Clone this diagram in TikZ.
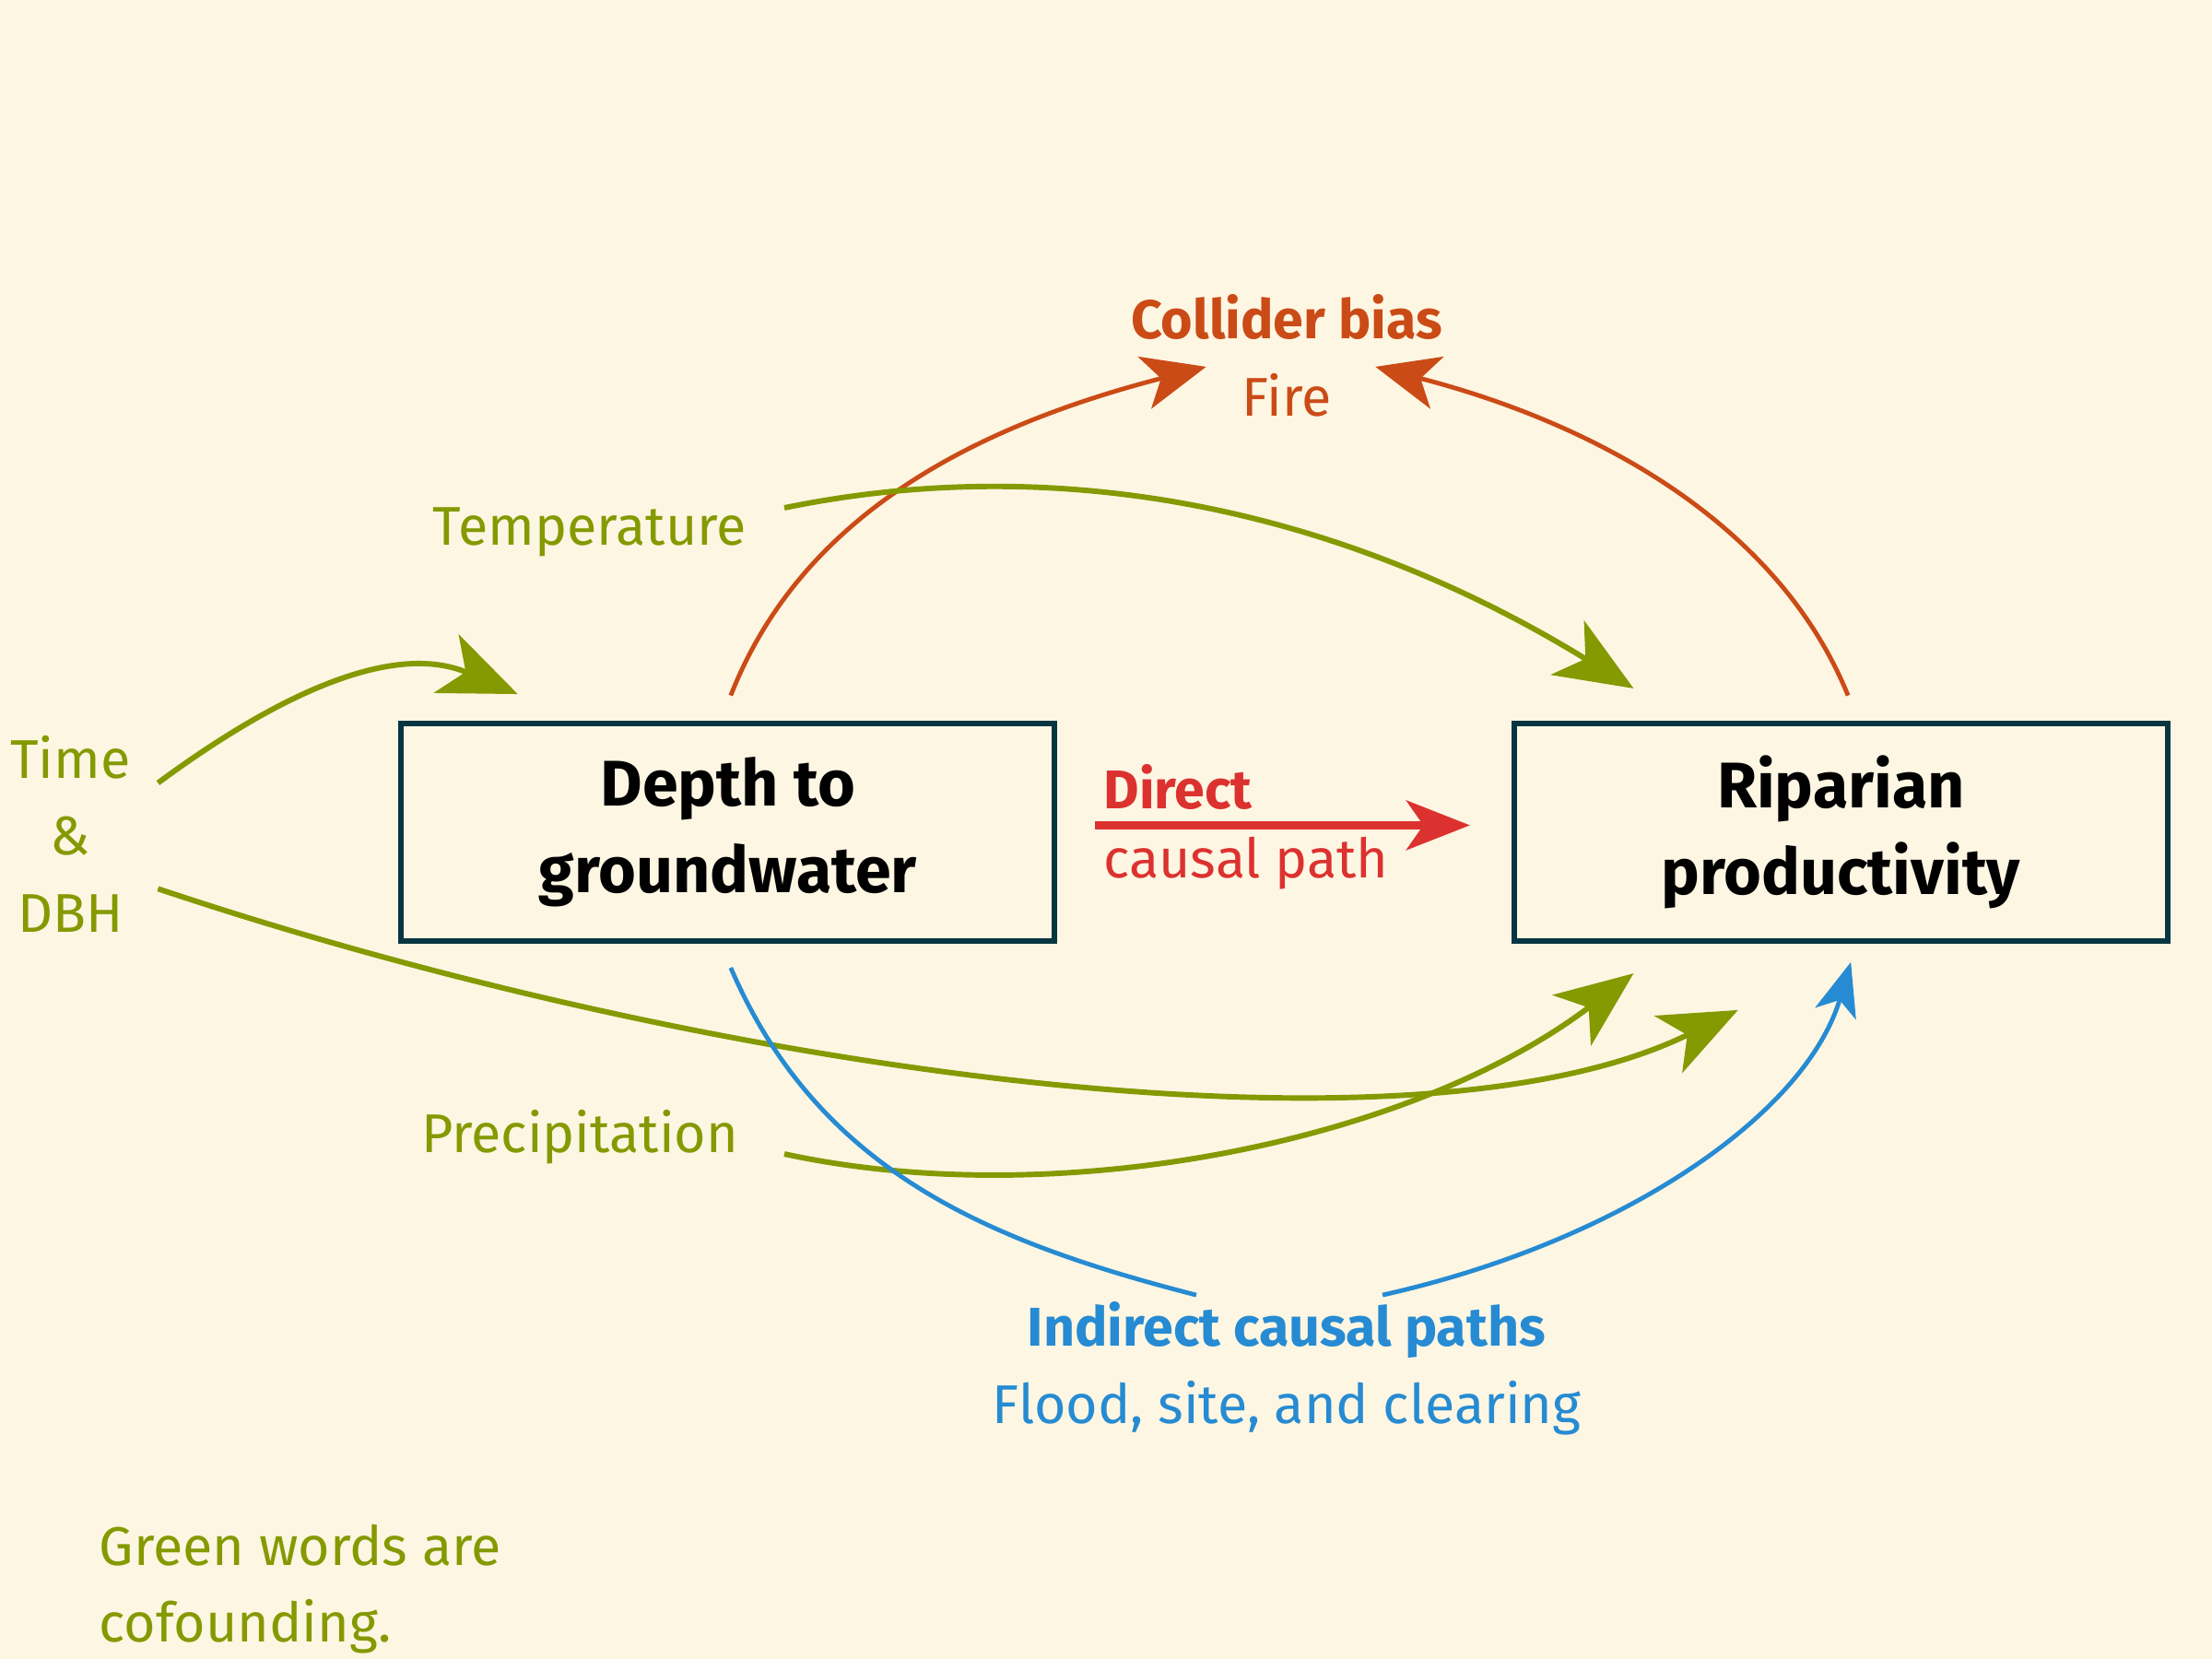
\documentclass[tikz,border=0pt]{standalone}
\usepackage{fontspec}
\setmainfont{Fira Sans}
\usetikzlibrary{arrows.meta}
\definecolor{bg}{HTML}{FDF6E3}
\definecolor{sgreen}{HTML}{859900}
\definecolor{sorange}{HTML}{CB4B16}
\definecolor{sred}{HTML}{DC322F}
\definecolor{sblue}{HTML}{268BD2}
\definecolor{sbase}{HTML}{073642}
\begin{document}
\begin{tikzpicture}[x=0.01cm,y=-0.01cm,
  box/.style={draw=sbase,line width=1.1pt,minimum width=4.63cm,minimum height=1.54cm,align=center,font=\fontsize{13}{17.5}\selectfont\bfseries},
  lbl/.style={font=\fontsize{11}{15.5}\selectfont,align=center},
  garrow/.style={sgreen,line width=1.1pt,-{Stealth[length=0.55cm,width=0.45cm,inset=0.15cm]}},
  oarrow/.style={sorange,line width=0.9pt,-{Stealth[length=0.45cm,width=0.38cm,inset=0.12cm]}},
  barrow/.style={sblue,line width=0.9pt,-{Stealth[length=0.38cm,width=0.3cm,inset=0.1cm]}}]
\fill[bg] (0,0) rectangle (1568,1176);
\useasboundingbox (0,0) rectangle (1568,1176);
\node[box] (d) at (516,590) {Depth to\\groundwater};
\node[box] (r) at (1305,590) {Riparian\\productivity};
\node[lbl,sorange,font=\fontsize{11}{15.5}\selectfont\bfseries] (cb) at (912,225) {Collider bias};
\node[lbl,sorange] (fire) at (912,280) {Fire};
\node[lbl,sgreen] (temp) at (418,377) {Temperature};
\node[lbl,sgreen] (time) at (50,591) {Time\\\&\\DBH};
\node[lbl,sgreen] (prec) at (411,806) {Precipitation};
\node[lbl,sred,font=\fontsize{11}{15.5}\selectfont\bfseries,anchor=west] (dir) at (770,558) {Direct};
\node[lbl,sred,anchor=west] (cp) at (770,612) {causal path};
\node[lbl,sblue,font=\fontsize{11}{15.5}\selectfont\bfseries] (ind) at (912,943) {Indirect causal paths};
\node[lbl,sblue] (fl) at (912,998) {Flood, site, and clearing};
\node[lbl,sgreen,align=left,anchor=north west] (note) at (58,1068) {Green words are\\cofounding.};
% coordinates
\coordinate (o1s) at (518,493); \coordinate (o1e) at (855,260);
\coordinate (o2s) at (1310,493); \coordinate (o2e) at (975,260);
\coordinate (ts) at (556,360); \coordinate (te) at (1158,488);
\coordinate (t1s) at (112,555); \coordinate (t1e) at (367,492);
\coordinate (t2s) at (112,630); \coordinate (t2e) at (1232,716);
\coordinate (ps) at (556,818); \coordinate (pe) at (1158,690);
\coordinate (rs) at (776,585); \coordinate (re) at (1042,585);
\coordinate (b1s) at (518,686); \coordinate (b1e) at (848,918);
\coordinate (b2s) at (980,918); \coordinate (b2e) at (1312,682);
\draw[oarrow] (o1s) .. controls (570,360) and (700,300) .. (o1e);
\draw[oarrow] (o2s) .. controls (1260,370) and (1130,300) .. (o2e);
\draw[garrow] (ts) .. controls (750,320) and (950,360) .. (te);
\draw[garrow] (t1s) .. controls (200,490) and (280,455) .. (t1e);
\draw[garrow] (t2s) .. controls (500,760) and (1000,830) .. (t2e);
\draw[garrow] (ps) .. controls (750,860) and (1000,810) .. (pe);
\draw[sred,line width=1.6pt,-{Stealth[length=0.45cm,width=0.35cm,inset=0.12cm]}] (rs) -- (re);
\draw[sblue,line width=0.9pt] (b1s) .. controls (580,830) and (700,880) .. (b1e);
\draw[barrow] (b2s) .. controls (1150,880) and (1280,790) .. (b2e);
\end{tikzpicture}
\end{document}
